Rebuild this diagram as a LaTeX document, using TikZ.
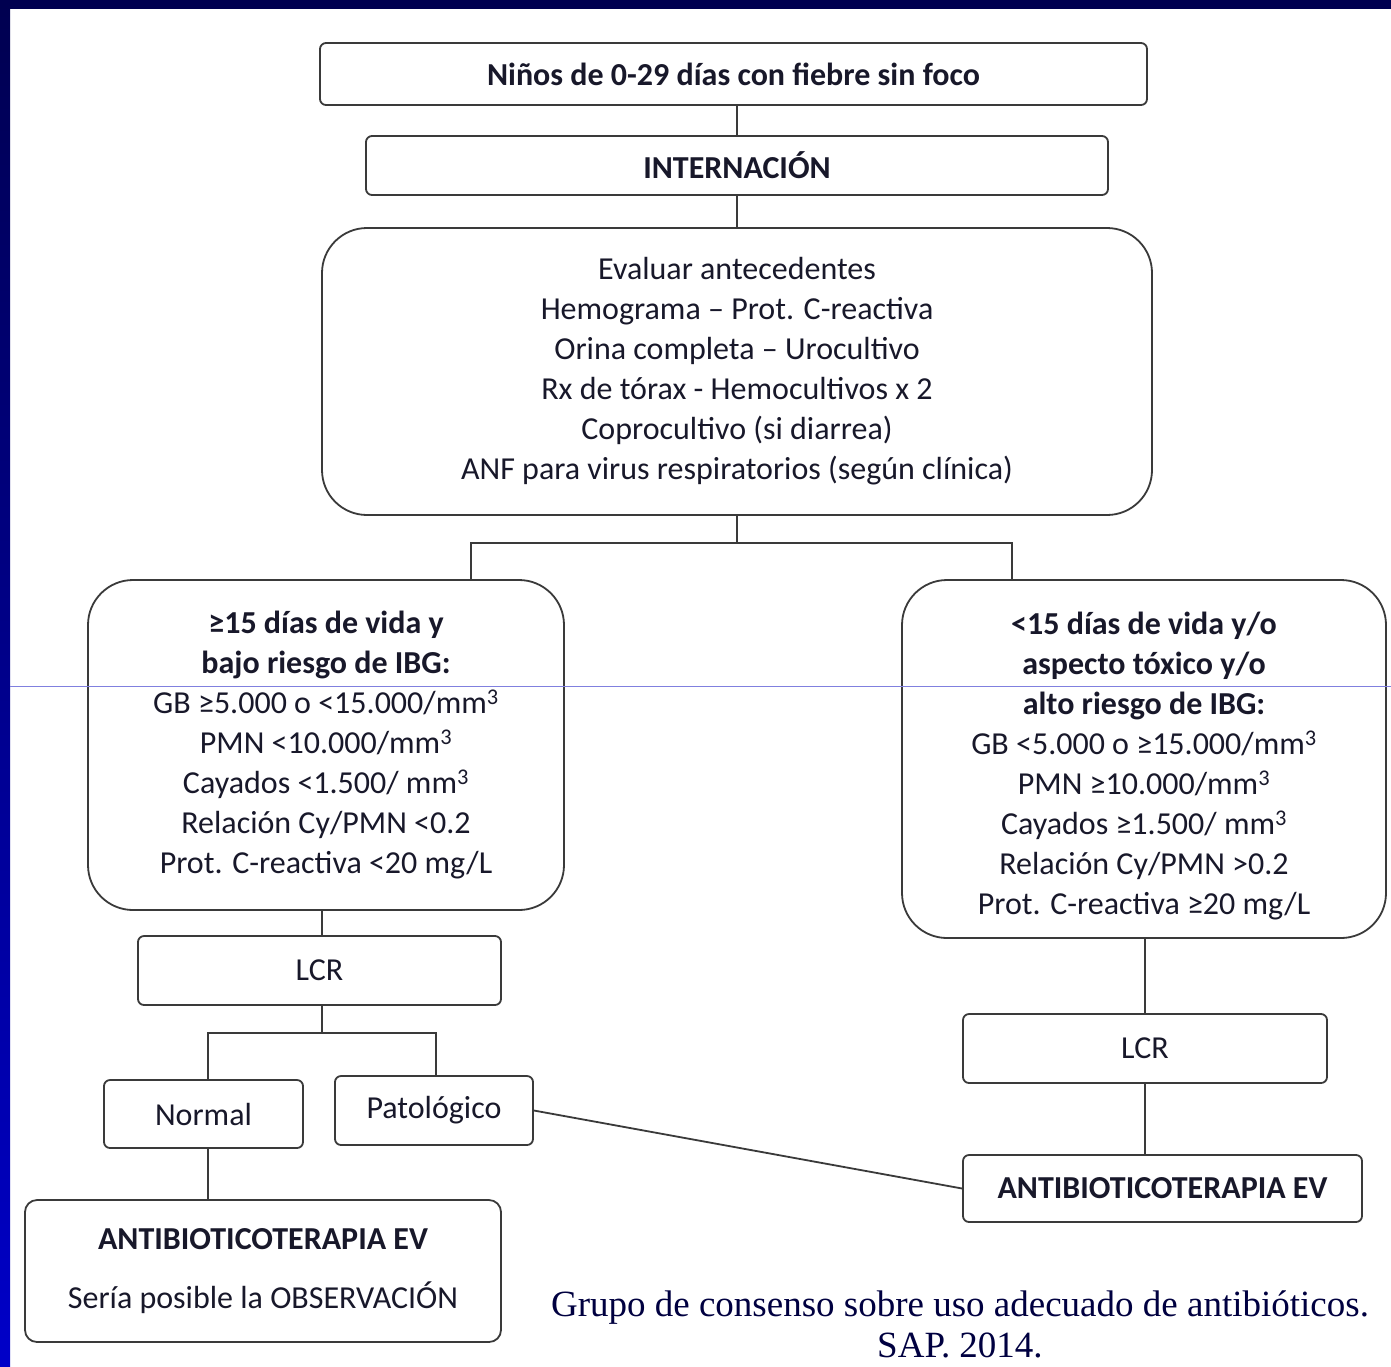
\documentclass[tikz,border=0pt]{standalone}
\usepackage{fontspec}
\setmainfont{Carlito}
\newfontfamily\citefont{Liberation Serif}
\definecolor{navytop}{HTML}{000050}
\definecolor{bluebot}{HTML}{0000C8}
\definecolor{boxline}{HTML}{3A3A3A}
\definecolor{txt}{HTML}{18182A}
\definecolor{citecol}{HTML}{000040}
\definecolor{thinblue}{HTML}{8080DF}
\newcommand\cub{\textsuperscript{3}}
\begin{document}
\begin{tikzpicture}[x=1pt,y=-1pt,
  box/.style={draw=boxline, line width=1.8pt, fill=white, align=center, inner sep=0pt,
     rounded corners=6pt, text=txt, font=\fontsize{32}{40}\selectfont},
  rbox/.style={box, rounded corners=45pt},
  boxtext/.style={align=center, inner sep=0pt, text=txt, font=\fontsize{32}{40}\selectfont},
  conn/.style={draw=boxline, line width=1.8pt},
  cite/.style={align=center, text=citecol, font=\citefont\fontsize{37}{41}\selectfont}]
\useasboundingbox (0,0) rectangle (1391,1366);
\fill[white] (0,0) rectangle (1391,1366);
\shade[top color=navytop, bottom color=bluebot] (0,0) rectangle (10,1366);
\fill[navytop] (0,0) rectangle (1391,9);

\node[box, minimum width=827pt, minimum height=62pt] (n1) at (733.5,74) {\textbf{Niños de 0-29 días con fiebre sin foco}};
\node[box, minimum width=742pt, minimum height=59pt] (n2) at (737,165.5) {\textbf{INTERNACIÓN}};
\node[rbox, minimum width=830pt, minimum height=287pt] (n3) at (737,371.5) {Evaluar antecedentes\\ Hemograma – Prot. C-reactiva\\ Orina completa – Urocultivo\\ Rx de tórax - Hemocultivos x 2\\ Coprocultivo (si diarrea)\\ ANF para virus respiratorios (según clínica)};
\node[rbox, minimum width=476pt, minimum height=330pt] (n4) at (326,745) {\textbf{≥15 días de vida y}\\ \textbf{bajo riesgo de IBG:}\\ GB ≥5.000 o <15.000/mm\cub\\ PMN <10.000/mm\cub\\ Cayados <1.500/ mm\cub\\ Relación Cy/PMN <0.2\\ Prot. C-reactiva <20 mg/L};
\node[rbox, minimum width=484pt, minimum height=358pt] (n5) at (1144,759) {};
\node[boxtext] (n5t) at (1144,766) {\textbf{<15 días de vida y/o}\\ \textbf{aspecto tóxico y/o}\\ \textbf{alto riesgo de IBG:}\\ GB <5.000 o ≥15.000/mm\cub\\ PMN ≥10.000/mm\cub\\ Cayados ≥1.500/ mm\cub\\ Relación Cy/PMN >0.2\\ Prot. C-reactiva ≥20 mg/L};
\node[box, minimum width=363pt, minimum height=69pt] (n6) at (319.5,970.5) {LCR};
\node[box, minimum width=364pt, minimum height=69pt] (n7) at (1145,1048.5) {LCR};
\node[box, minimum width=199pt, minimum height=68pt] (n8) at (203.5,1114) {Normal};
\node[box, minimum width=198pt, minimum height=69pt] (n9) at (434,1110.5) {Patológico};
\node[box, minimum width=399pt, minimum height=67pt] (n10) at (1162.5,1188.5) {\textbf{ANTIBIOTICOTERAPIA EV}};
\node[box, rounded corners=12pt, minimum width=476pt, minimum height=142pt] (n11) at (263,1271) {\textbf{ANTIBIOTICOTERAPIA EV}\\[19pt] Sería posible la OBSERVACIÓN};

\node[cite] (c1) at (960,1324) {Grupo de consenso sobre uso adecuado de antibióticos.\\ SAP. 2014.};

\coordinate (b1) at (737,543);
\coordinate (b2) at (322,1033);
\draw[conn] (n2.north) -- (n2.north |- n1.south);
\draw[conn] (n2.south) -- (n2.south |- n3.north);
\draw[conn] (n3.south) -- (b1);
\draw[conn] (b1) -| ([xshift=145pt]n4.north);
\draw[conn] (b1) -| ([xshift=-132pt]n5.north);
\draw[conn] (n4.south -| b2) -- (n6.north -| b2);
\draw[conn] (n6.south -| b2) -- (b2);
\draw[conn] (b2) -| ([xshift=4.5pt]n8.north);
\draw[conn] (b2) -| ([xshift=2pt]n9.north);
\draw[conn] ([xshift=4.5pt]n8.south) -- ([xshift=4.5pt]n8.south |- n11.north);
\draw[conn] (n9.east) -- (n10.west);
\draw[conn] (n7.north) -- (n7.north |- n5.south);
\draw[conn] (n7.south) -- (n7.south |- n10.north);

\draw[thinblue, line width=1pt] (10,686.5) -- (1391,686.5);
\end{tikzpicture}
\end{document}
